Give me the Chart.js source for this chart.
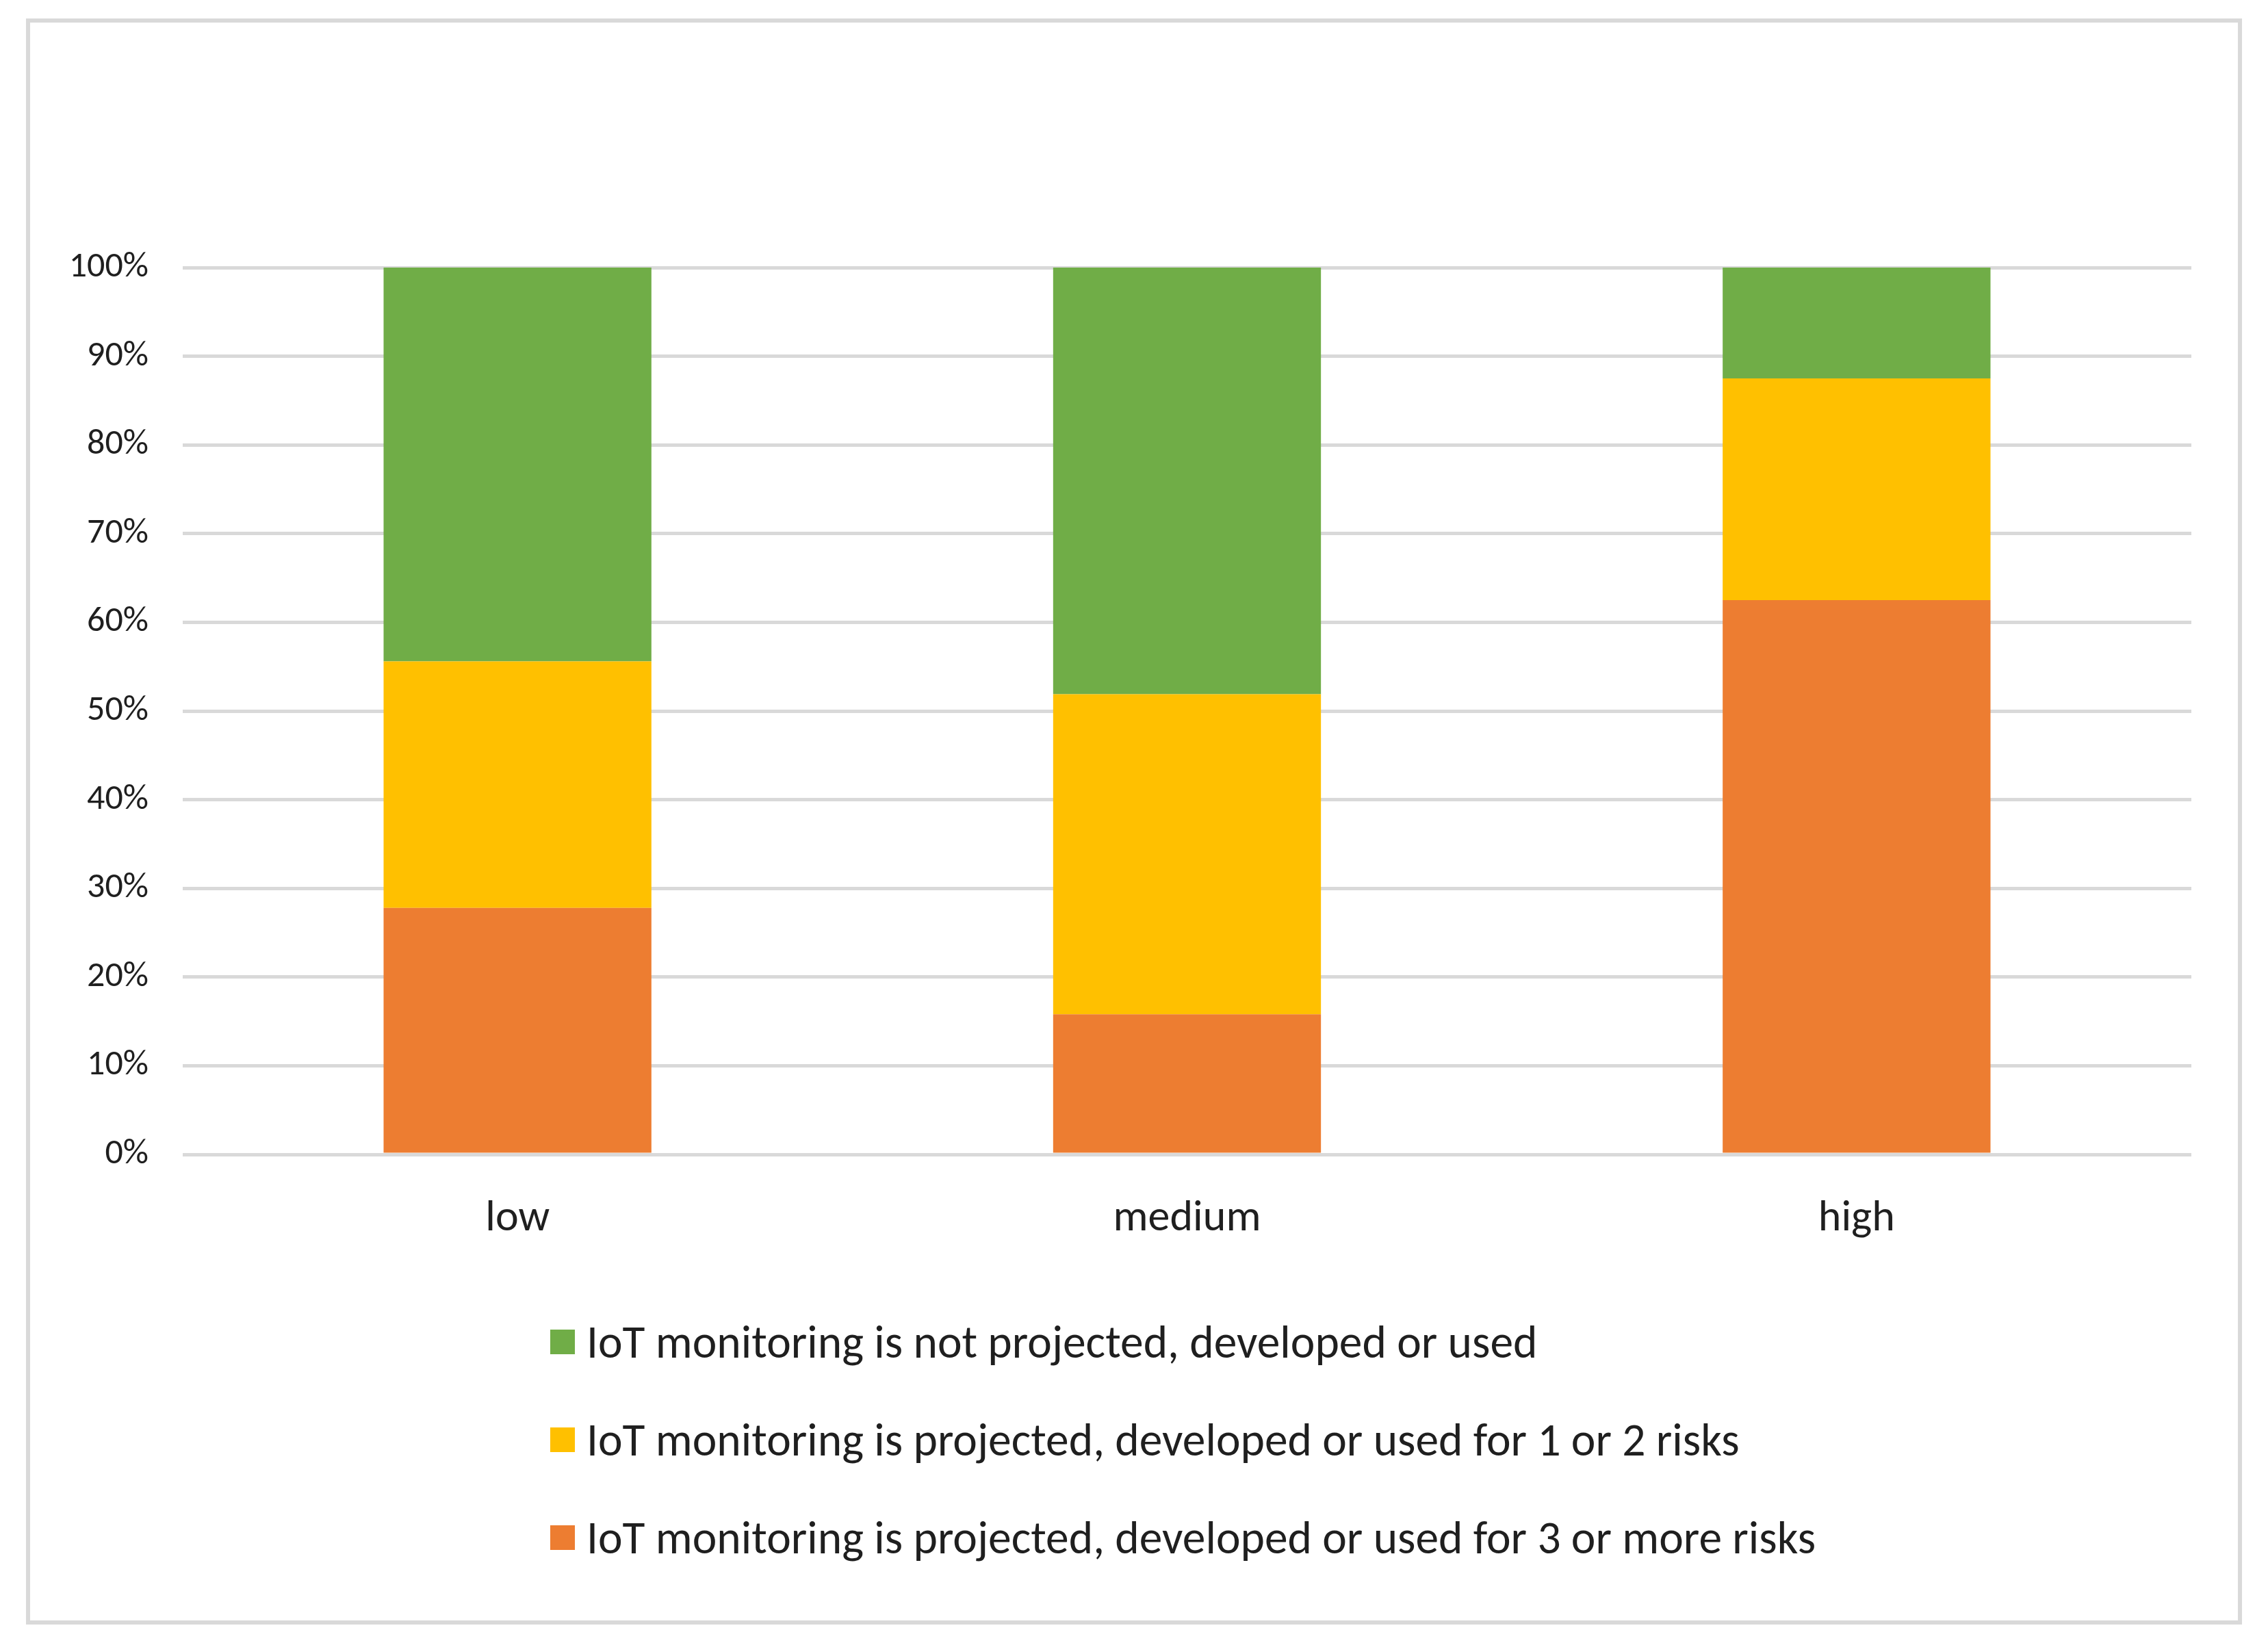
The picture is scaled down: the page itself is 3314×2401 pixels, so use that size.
<!DOCTYPE html>
<html>
<head>
<meta charset="utf-8">
<script src="https://cdn.jsdelivr.net/npm/chart.js@4.4.1/dist/chart.umd.min.js"></script>
<style>
  html, body { margin: 0; padding: 0; background: #ffffff; }
  #wrap { position: relative; width: 3314px; height: 2401px; overflow: hidden; background: #ffffff; }
  #frame { position: absolute; left: 38px; top: 27px; width: 3226px; height: 2335px; border: 6px solid #d9d9d9; }
  #chart { position: absolute; left: 0; top: 0; }
  #legend { position: absolute; left: 804px; top: 1889px; font-family: Carlito, Lato, sans-serif; font-size: 67.5px; color: #1f1f1f; }
  .row { height: 143px; display: flex; align-items: center; white-space: nowrap; }
  .sw { width: 36px; height: 36px; margin-right: 17px; flex: none; }
</style>
</head>
<body>
<div id="wrap">
  <div id="frame"></div>
  <canvas id="chart" width="3314" height="2401" style="width:3314px;height:2401px"></canvas>
  <div id="legend"></div>
</div>
<script>
// ---- data ----
const categories = ['low', 'medium', 'high'];
const seriesLabels = [
  'IoT monitoring is projected, developed or used for 3 or more risks',
  'IoT monitoring is projected, developed or used for 1 or 2 risks',
  'IoT monitoring is not projected, developed or used'
];
const threeOrMoreRisks = [27.8, 15.8, 62.5];
const oneOrTwoRisks = [27.8, 36.1, 25.0];
const notUsed = [44.4, 48.1, 12.5];
const seriesColors = ['#ED7D31', '#FFC000', '#70AD47'];
const yTickStep = 10;
const yMax = 100;

const FONT = 'Carlito, Lato, sans-serif';
const TEXT = '#1f1f1f';

const seriesValues = [threeOrMoreRisks, oneOrTwoRisks, notUsed];
const datasets = seriesLabels.map((label, i) => ({
  label: label,
  data: seriesValues[i],
  backgroundColor: seriesColors[i],
  borderWidth: 0,
  categoryPercentage: 1.0,
  barPercentage: 0.4
}));

const chart = new Chart(document.getElementById('chart'), {
  type: 'bar',
  data: { labels: categories, datasets: datasets },
  options: {
    responsive: false,
    devicePixelRatio: 1,
    animation: false,
    layout: { padding: { left: 0, top: 391, right: 112, bottom: 514 } },
    plugins: { legend: { display: false }, tooltip: { enabled: false }, title: { display: false } },
    scales: {
      x: {
        stacked: true,
        grid: { display: false, drawTicks: false },
        border: { display: false },
        ticks: { color: TEXT, font: { family: FONT, size: 64 }, padding: 57 },
        afterFit: (s) => { s.height = 200; }
      },
      y: {
        stacked: true,
        min: 0,
        max: yMax,
        grid: { color: '#d9d9d9', lineWidth: 5, drawTicks: false },
        border: { display: false },
        ticks: {
          stepSize: yTickStep,
          color: TEXT,
          font: { family: FONT, size: 52 },
          padding: 50,
          callback: (v) => v + '%'
        },
        afterFit: (s) => { s.width = 267; }
      }
    }
  }
});

// HTML legend built from the chart's datasets (top series first)
const legendEl = document.getElementById('legend');
chart.data.datasets.slice().reverse().forEach(ds => {
  const row = document.createElement('div');
  row.className = 'row';
  const sw = document.createElement('span');
  sw.className = 'sw';
  sw.style.background = ds.backgroundColor;
  const tx = document.createElement('span');
  tx.textContent = ds.label;
  row.appendChild(sw);
  row.appendChild(tx);
  legendEl.appendChild(row);
});
</script>
</body>
</html>
